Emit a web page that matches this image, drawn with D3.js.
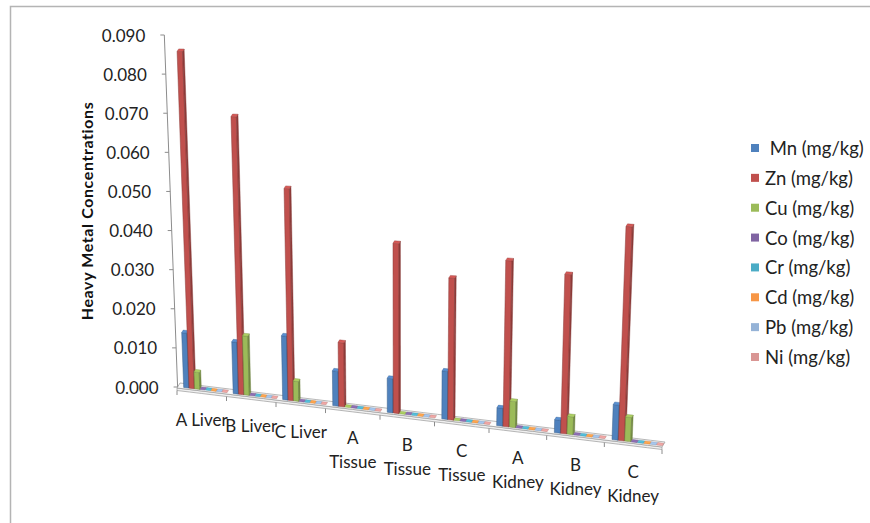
<!DOCTYPE html>
<html>
<head>
<meta charset="utf-8">
<script src="https://cdn.jsdelivr.net/npm/d3@7"></script>
<style>
   body { margin: 0; background: #fff; }
   svg { display: block; font-family: Lato, "Open Sans", sans-serif; }
   .legend text { white-space: pre; }
</style>
</head>
<body>
<svg id="chart" width="870" height="523"></svg>
<script>
// categories (line breaks as shown under the floor)
const Categories = ["A Liver", "B Liver", "C Liver", "A\nTissue", "B\nTissue", "C\nTissue", "A\nKidney", "B\nKidney", "C\nKidney"];

// series names and colours
const SeriesNames = [" Mn (mg/kg)", "Zn (mg/kg)", "Cu (mg/kg)", "Co (mg/kg)", "Cr (mg/kg)", "Cd (mg/kg)", "Pb (mg/kg)", "Ni (mg/kg)"];
const SeriesColors = ["#4f81bd", "#c0504d", "#9bbb59", "#8064a2", "#4bacc6", "#f79646", "#95b3d7", "#d99694"];

// values
const MnValues = [0.0140, 0.0130, 0.0158, 0.0085, 0.0082, 0.0114, 0.0042, 0.0030, 0.0080];
const ZnValues = [0.0858, 0.0697, 0.0524, 0.0156, 0.0408, 0.0336, 0.0388, 0.0367, 0.0487];
const CuValues = [0.0043, 0.0148, 0.0049, 0, 0, 0, 0.0061, 0.0041, 0.0055];
const CoValues = [0, 0, 0, 0, 0, 0, 0, 0, 0];
const CrValues = [0, 0, 0, 0, 0, 0, 0, 0, 0];
const CdValues = [0, 0, 0, 0, 0, 0, 0, 0, 0];
const PbValues = [0, 0, 0, 0, 0, 0, 0, 0, 0];
const NiValues = [0, 0, 0, 0, 0, 0, 0, 0, 0];
const SeriesValues = [MnValues, ZnValues, CuValues, CoValues, CrValues, CdValues, PbValues, NiValues];

// y axis ticks and title
const YTicks = [0, 0.01, 0.02, 0.03, 0.04, 0.05, 0.06, 0.07, 0.08, 0.09];
const YTitle = "Heavy Metal Concentrations";

// pseudo 3D projection
const xCat = d3.scaleLinear().domain([0, 3, 6, 9]).range([177, 325.5, 489, 662]);
const yFloor = d3.scaleLinear().domain([177, 662]).range([388, 447]);
const yHeight = d3.scaleLinear().domain([0, 0.09]).range([0, 352]);
const depthScale = d3.scaleLinear().domain([0, 9]).range([1, 1.135]);
const VanishX = 404;
const VanishDist = 6000;
const Depth = [3, -5];

function point(c, dep, v) {
   const bx = xCat(c) + Depth[0] * dep;
   const by = yFloor(xCat(c)) + Depth[1] * dep;
   const h = yHeight(v) * depthScale(c);
   return [bx + (bx - VanishX) * h / VanishDist, by - h];
}

function poly(pts) {
   return pts.map(p => p[0].toFixed(2) + "," + p[1].toFixed(2)).join(" ");
}

const svg = d3.select("#chart");

// frame
svg.append("path")
   .attr("d", "M10.5,530V6.5H870")
   .attr("fill", "none")
   .attr("stroke", "#b4b4b4")
   .attr("stroke-width", 1.5);

drawFloor();
drawAxis();
drawBars();
drawCategoryLabels();
drawLegend();

// floor slab and category ticks
function drawFloor() {
   const steps = d3.range(0, 9.0001, 0.25);
   const front = steps.map(c => point(c, 0, 0));
   const back = steps.map(c => point(c, 1, 0)).reverse();
   const g = svg.append("g");
   g.append("polygon")
      .attr("points", poly(front.concat(front.map(p => [p[0], p[1] + 2.5]).reverse())))
      .attr("fill", "#f0f0f0")
      .attr("stroke", "#9a9a9a")
      .attr("stroke-width", 0.7);
   g.append("polygon")
      .attr("points", poly(front.concat(back)))
      .attr("fill", "#fbfbfb")
      .attr("stroke", "#9a9a9a")
      .attr("stroke-width", 0.7);
   g.selectAll("line.tick")
      .data(d3.range(0, 10))
      .enter()
      .append("line")
      .attr("class", "tick")
      .attr("x1", d => point(d, 0, 0)[0])
      .attr("x2", d => point(d, 0, 0)[0])
      .attr("y1", d => point(d, 0, 0)[1] + 2.5)
      .attr("y2", d => point(d, 0, 0)[1] + 7)
      .attr("stroke", "#8c8c8c")
      .attr("stroke-width", 1);
}

// vertical axis
function drawAxis() {
   const g = svg.append("g");
   const p0 = point(0, 0.2, 0);
   const p1 = point(0, 0.2, d3.max(YTicks));
   g.append("line")
      .attr("x1", p0[0]).attr("y1", p0[1])
      .attr("x2", p1[0]).attr("y2", p1[1])
      .attr("stroke", "#8c8c8c")
      .attr("stroke-width", 1);

   const ticks = g.selectAll("g.ytick")
      .data(YTicks)
      .enter()
      .append("g")
      .attr("class", "ytick");
   ticks.append("line")
      .attr("x1", d => point(0, 0.2, d)[0] - 4)
      .attr("x2", d => point(0, 0.2, d)[0])
      .attr("y1", d => point(0, 0.2, d)[1])
      .attr("y2", d => point(0, 0.2, d)[1])
      .attr("stroke", "#8c8c8c");
   ticks.append("text")
      .attr("x", d => point(0, 0.2, d)[0] - 19)
      .attr("y", d => point(0, 0.2, d)[1])
      .attr("text-anchor", "end")
      .attr("dominant-baseline", "central")
      .attr("font-size", 17)
      .attr("fill", "#222")
      .text(d => d3.format(".3f")(d));

   svg.append("text")
      .attr("transform", "translate(86,211) rotate(-90)")
      .attr("text-anchor", "middle")
      .attr("dominant-baseline", "central")
      .attr("font-size", 16)
      .attr("letter-spacing", 0.6)
      .attr("font-weight", "bold")
      .attr("fill", "#111")
      .text(YTitle);
}

// 3D columns
function drawBars() {
   const BarStart = 0.12;
   const BarStep = 0.11;
   const BarWidth = 0.105;
   const bars = [];
   Categories.forEach((cat, i) => {
      SeriesValues.forEach((vals, j) => {
         const c0 = i + BarStart + j * BarStep;
         bars.push({ c0: c0, c1: c0 + BarWidth, v: vals[i], color: SeriesColors[j] });
      });
   });

   const g = svg.append("g");
   const bar = g.selectAll("g.bar")
      .data(bars)
      .enter()
      .append("g")
      .attr("class", "bar");

   const d0 = 0.25, d1 = 0.75;
   bar.filter(d => d.v > 0).append("polygon")
      .attr("points", d => poly([point(d.c0, d0, 0), point(d.c1, d0, 0), point(d.c1, d0, d.v), point(d.c0, d0, d.v)]))
      .attr("fill", d => d.color)
      .attr("stroke", d => d3.color(d.color).darker(0.9))
      .attr("stroke-width", 0.5);
   bar.filter(d => d.v > 0).append("polygon")
      .attr("points", d => poly([point(d.c1, d0, 0), point(d.c1, d1, 0), point(d.c1, d1, d.v), point(d.c1, d0, d.v)]))
      .attr("fill", d => d3.color(d.color).darker(0.8))
      .attr("stroke", d => d3.color(d.color).darker(1.2))
      .attr("stroke-width", 0.4);
   bar.append("polygon")
      .attr("points", d => poly([point(d.c0, d0, d.v), point(d.c1, d0, d.v), point(d.c1, d1, d.v), point(d.c0, d1, d.v)]))
      .attr("fill", d => d3.color(d.color).brighter(0.3))
      .attr("stroke", d => d3.color(d.color).darker(0.6))
      .attr("stroke-width", 0.4);
}

// category labels under the floor
function drawCategoryLabels() {
   const labels = svg.append("g")
      .selectAll("text")
      .data(Categories)
      .enter()
      .append("text")
      .attr("text-anchor", "middle")
      .attr("font-size", 17)
      .attr("fill", "#222")
      .attr("x", (d, i) => point(i + 0.5, 0, 0)[0])
      .attr("y", (d, i) => point(i + 0.5, 0, 0)[1] + 34.5);
   labels.selectAll("tspan")
      .data(d => d.split("\n"))
      .enter()
      .append("tspan")
      .attr("x", function () { return d3.select(this.parentNode).attr("x"); })
      .attr("dy", (d, k) => k === 0 ? 0 : 24)
      .text(d => d);
}

// legend
function drawLegend() {
   const legendY = d3.scaleLinear().domain([0, 7]).range([148, 357]);
   const item = svg.append("g")
      .attr("class", "legend")
      .selectAll("g")
      .data(SeriesNames)
      .enter()
      .append("g")
      .attr("transform", (d, j) => "translate(751," + legendY(j) + ")");
   item.append("rect")
      .attr("x", 0)
      .attr("y", -4)
      .attr("width", 8)
      .attr("height", 8)
      .attr("fill", (d, j) => SeriesColors[j]);
   item.append("text")
      .attr("x", 14)
      .attr("dominant-baseline", "central")
      .attr("font-size", 18.5)
      .attr("fill", "#222")
      .text(d => d);
}
</script>
</body>
</html>
